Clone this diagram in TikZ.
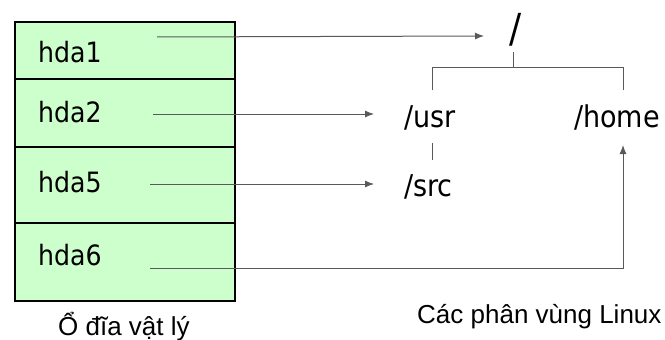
\documentclass[tikz,border=0pt]{standalone}
\usepackage{fontspec}
\setmainfont{DejaVu Sans Condensed}
\newfontfamily\capfont{Liberation Sans}
\usetikzlibrary{arrows.meta}
\begin{document}
\begin{tikzpicture}[x=1pt,y=-1pt,
  cell/.style={draw=black,line width=1.8pt,fill={rgb,255:red,204;green,255;blue,204},minimum width=220pt,inner sep=0pt,anchor=north west},
  lbl/.style={font=\fontsize{28}{32}\selectfont,inner sep=0pt,anchor=base west},
  dirlbl/.style={font=\fontsize{30}{34}\selectfont,inner sep=0pt,anchor=base west},
  captext/.style={font=\capfont\fontsize{26}{30}\selectfont,inner sep=0pt,anchor=base west},
  conn/.style={draw=black!65,line width=1pt,-{Latex[length=9pt,width=7pt]}},
  tree/.style={draw=black!65,line width=1pt}]
\useasboundingbox (0,0) rectangle (665,340);
\fill[white] (0,0) rectangle (665,340);
% cells
\node[cell,minimum height=57pt] (c1) at (14,21) {};
\node[cell,minimum height=68pt] (c2) at (14,78) {};
\node[cell,minimum height=76pt] (c3) at (14,146) {};
\node[cell,minimum height=78pt] (c4) at (14,222) {};
\node[lbl] (h1) at (38,63) {hda1};
\node[lbl] (h2) at (38,122) {hda2};
\node[lbl] (h5) at (38,192) {hda5};
\node[lbl] (h6) at (38,265) {hda6};
% start points
\coordinate (s1) at (157,37);
\coordinate (s2) at (153,114);
\coordinate (s5) at (150,184);
\coordinate (s6) at (150,268);
% tree
\node[font=\fontsize{40}{44}\selectfont,inner sep=0pt,anchor=base west] (root) at (509,42) {/};
\node[dirlbl] (usr) at (404,127) {/usr};
\node[dirlbl] (home) at (574,127) {/home};
\node[dirlbl] (src) at (404,196) {/src};
\coordinate (e1) at (484,36);
\coordinate (e2) at (374,114);
\coordinate (e5) at (374,184);
\coordinate (e6) at (623,145);
\coordinate (rb) at (513,52);
\coordinate (rj) at (513,67);
\coordinate (ul) at (432,67);
\coordinate (ub) at (432,90);
\coordinate (hl) at (623,67);
\coordinate (hb) at (623,90);
\coordinate (ut) at (432,143);
\coordinate (st) at (432,160);
\draw[tree] (rb) -- (rj);
\draw[tree] (ub) -- (ul) -- (hl) -- (hb);
\draw[tree] (ut) -- (st);
% connectors
\draw[conn] (s1) -- (e1);
\draw[conn] (s2) -- (e2);
\draw[conn] (s5) -- (e5);
\draw[conn] (s6) -| (e6);
% captions
\node[captext] (capL) at (58,335) {Ổ đĩa vật lý};
\node[captext] (capR) at (417,323) {Các phân vùng Linux};
\end{tikzpicture}
\end{document}
